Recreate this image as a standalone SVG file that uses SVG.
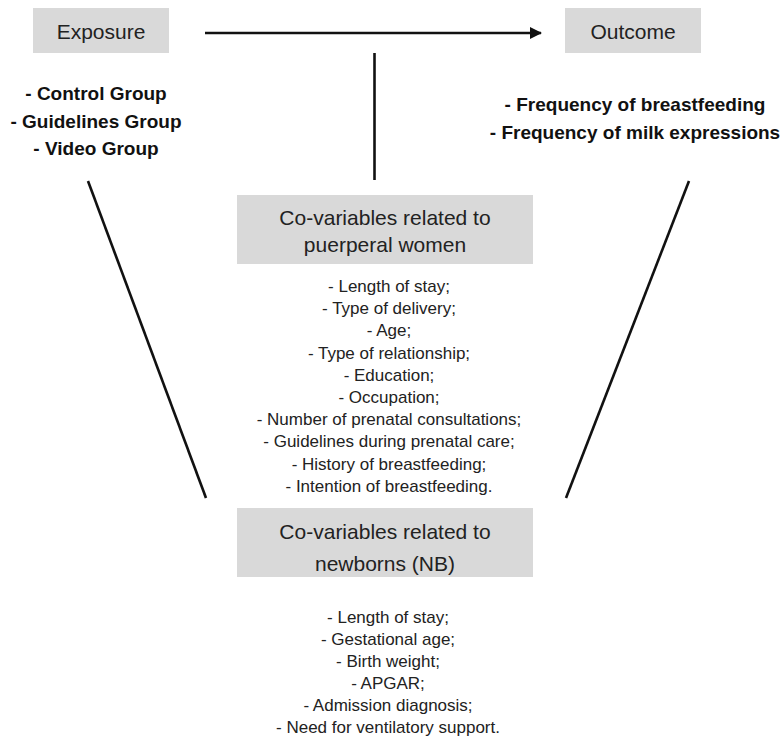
<svg xmlns="http://www.w3.org/2000/svg" width="782" height="738" viewBox="0 0 782 738">
<style>
  .box { fill: #d9d9d9; }
  .t { font-family: "Liberation Sans", Arial, sans-serif; fill: #222; text-anchor: middle; }
  .head { font-size: 21px; }
  .bold { font-size: 19px; font-weight: bold; fill: #111; }
  .list { font-size: 17px; }
  .ln { stroke: #111; stroke-width: 2.6; fill: none; }
</style>
<defs>
  <marker id="arr" viewBox="0 0 12 12" refX="11" refY="6" markerWidth="12" markerHeight="12" markerUnits="userSpaceOnUse" orient="auto">
    <path d="M0,0 L12,6 L0,12 Z" fill="#111"/>
  </marker>
</defs>

<g id="connectors">
  <line class="ln" x1="205" y1="33" x2="541" y2="33" marker-end="url(#arr)"/>
  <line class="ln" x1="374.5" y1="53" x2="374.5" y2="180"/>
  <line class="ln" x1="88" y1="181" x2="206" y2="498"/>
  <line class="ln" x1="689" y1="181" x2="566" y2="498"/>
</g>

<g id="exposure">
  <rect class="box" x="33" y="8" width="136" height="45"/>
  <text class="t head" x="101" y="39">Exposure</text>
  <text class="t bold" x="96" y="99.5">- Control Group</text>
  <text class="t bold" x="96" y="127.5">- Guidelines Group</text>
  <text class="t bold" x="96" y="154.5">- Video Group</text>
</g>

<g id="outcome">
  <rect class="box" x="565" y="8" width="136" height="45"/>
  <text class="t head" x="633" y="39">Outcome</text>
  <text class="t bold" x="635" y="110.5">- Frequency of breastfeeding</text>
  <text class="t bold" x="635" y="138.5">- Frequency of milk expressions</text>
</g>

<g id="puerperal">
  <rect class="box" x="237" y="195" width="296" height="69"/>
  <text class="t head" x="385" y="225">Co-variables related to</text>
  <text class="t head" x="385" y="251.5">puerperal women</text>
  <text class="t list" x="389" y="292">- Length of stay;</text>
  <text class="t list" x="389" y="314.2">- Type of delivery;</text>
  <text class="t list" x="389" y="336.4">- Age;</text>
  <text class="t list" x="389" y="358.6">- Type of relationship;</text>
  <text class="t list" x="389" y="380.8">- Education;</text>
  <text class="t list" x="389" y="403">- Occupation;</text>
  <text class="t list" x="389" y="425.2">- Number of prenatal consultations;</text>
  <text class="t list" x="389" y="447.4">- Guidelines during prenatal care;</text>
  <text class="t list" x="389" y="469.6">- History of breastfeeding;</text>
  <text class="t list" x="389" y="491.8">- Intention of breastfeeding.</text>
</g>

<g id="newborns">
  <rect class="box" x="237" y="508" width="296" height="69"/>
  <text class="t head" x="385" y="539">Co-variables related to</text>
  <text class="t head" x="385" y="571">newborns (NB)</text>
  <text class="t list" x="388" y="623">- Length of stay;</text>
  <text class="t list" x="388" y="645">- Gestational age;</text>
  <text class="t list" x="388" y="667">- Birth weight;</text>
  <text class="t list" x="388" y="689">- APGAR;</text>
  <text class="t list" x="388" y="711">- Admission diagnosis;</text>
  <text class="t list" x="388" y="733">- Need for ventilatory support.</text>
</g>
</svg>
